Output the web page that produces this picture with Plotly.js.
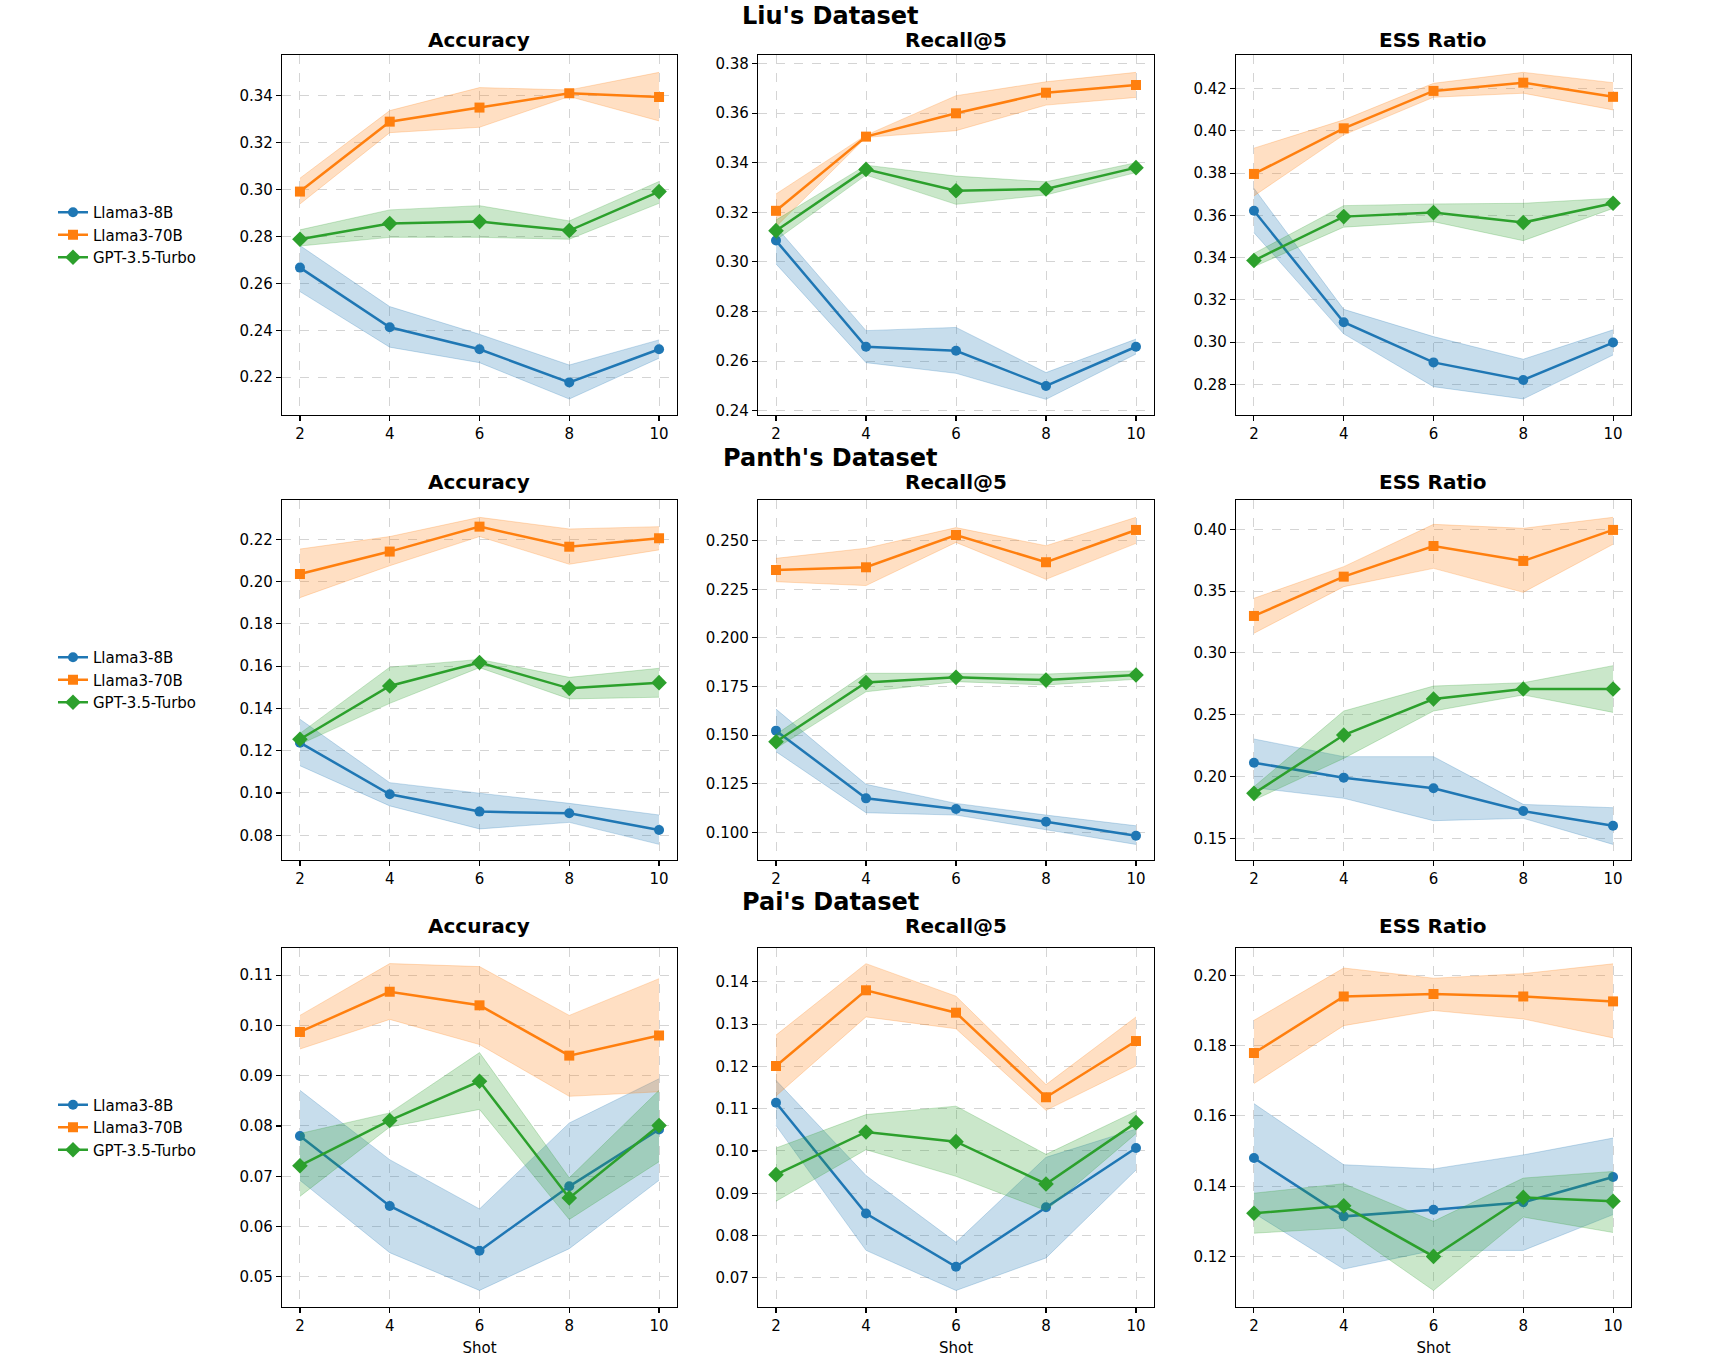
<!DOCTYPE html>
<html>
<head>
<meta charset="utf-8">
<script src="https://cdn.plot.ly/plotly-3.0.1.min.js"></script>
<style>
  html, body { margin: 0; padding: 0; background: #ffffff; }
  #chart { width: 1721px; height: 1359px; }
</style>
</head>
<body>
<div id="chart"></div>
<script>
// ---------------- DATA ----------------
const shots = [2, 4, 6, 8, 10];
const models = ['Llama3-8B', 'Llama3-70B', 'GPT-3.5-Turbo'];
const datasets = ["Liu's Dataset", "Panth's Dataset", "Pai's Dataset"];
const metrics = ['Accuracy', 'Recall@5', 'ESS Ratio'];

// Liu's Dataset - Accuracy
const liuAcc_8B     = [0.2667, 0.2413, 0.2319, 0.2178, 0.2319];
const liuAcc_8B_lo  = [0.2565, 0.2328, 0.2262, 0.2107, 0.2281];
const liuAcc_8B_hi  = [0.2761, 0.2501, 0.2383, 0.2252, 0.2359];
const liuAcc_70B    = [0.2991, 0.3289, 0.3349, 0.3410, 0.3394];
const liuAcc_70B_lo = [0.2938, 0.3242, 0.3265, 0.3396, 0.3292];
const liuAcc_70B_hi = [0.3048, 0.3336, 0.3434, 0.3424, 0.3499];
const liuAcc_GPT    = [0.2788, 0.2855, 0.2863, 0.2825, 0.2991];
const liuAcc_GPT_lo = [0.2759, 0.2796, 0.2796, 0.2788, 0.2941];
const liuAcc_GPT_hi = [0.2828, 0.2913, 0.2931, 0.2866, 0.3034];

// Liu's Dataset - Recall@5
const liuRec_8B     = [0.3086, 0.2658, 0.2642, 0.2500, 0.2658];
const liuRec_8B_lo  = [0.2992, 0.2594, 0.2551, 0.2446, 0.2629];
const liuRec_8B_hi  = [0.3142, 0.2723, 0.2736, 0.2554, 0.2689];
const liuRec_70B    = [0.3206, 0.3505, 0.3599, 0.3682, 0.3713];
const liuRec_70B_lo = [0.3142, 0.3502, 0.3529, 0.3632, 0.3663];
const liuRec_70B_hi = [0.3274, 0.3511, 0.3670, 0.3726, 0.3764];
const liuRec_GPT    = [0.3126, 0.3373, 0.3287, 0.3294, 0.3380];
const liuRec_GPT_lo = [0.3088, 0.3350, 0.3232, 0.3270, 0.3360];
const liuRec_GPT_hi = [0.3169, 0.3390, 0.3346, 0.3323, 0.3400];

// Liu's Dataset - ESS Ratio
const liuEss_8B     = [0.3622, 0.3094, 0.2904, 0.2821, 0.2998];
const liuEss_8B_lo  = [0.3518, 0.3039, 0.2789, 0.2731, 0.2939];
const liuEss_8B_hi  = [0.3728, 0.3155, 0.3026, 0.2919, 0.3058];
const liuEss_70B    = [0.3796, 0.4012, 0.4189, 0.4228, 0.4161];
const liuEss_70B_lo = [0.3692, 0.3981, 0.4159, 0.4178, 0.4099];
const liuEss_70B_hi = [0.3918, 0.4052, 0.4225, 0.4277, 0.4228];
const liuEss_GPT    = [0.3386, 0.3594, 0.3613, 0.3566, 0.3657];
const liuEss_GPT_lo = [0.3357, 0.3544, 0.3570, 0.3480, 0.3633];
const liuEss_GPT_hi = [0.3420, 0.3646, 0.3654, 0.3657, 0.3681];

// Panth's Dataset - Accuracy
const panAcc_8B     = [0.1238, 0.0994, 0.0912, 0.0904, 0.0825];
const panAcc_8B_lo  = [0.1129, 0.0939, 0.0830, 0.0861, 0.0757];
const panAcc_8B_hi  = [0.1349, 0.1049, 0.0999, 0.0951, 0.0896];
const panAcc_70B    = [0.2036, 0.2142, 0.2260, 0.2165, 0.2205];
const panAcc_70B_lo = [0.1924, 0.2075, 0.2213, 0.2082, 0.2150];
const panAcc_70B_hi = [0.2154, 0.2213, 0.2304, 0.2249, 0.2260];
const panAcc_GPT    = [0.1254, 0.1506, 0.1617, 0.1495, 0.1522];
const panAcc_GPT_lo = [0.1230, 0.1424, 0.1593, 0.1445, 0.1453];
const panAcc_GPT_hi = [0.1282, 0.1595, 0.1632, 0.1547, 0.1590];

// Panth's Dataset - Recall@5
const panRec_8B     = [0.1523, 0.1175, 0.1120, 0.1055, 0.0983];
const panRec_8B_lo  = [0.1415, 0.1101, 0.1089, 0.1015, 0.0938];
const panRec_8B_hi  = [0.1634, 0.1247, 0.1149, 0.1089, 0.1034];
const panRec_70B    = [0.2349, 0.2363, 0.2529, 0.2389, 0.2555];
const panRec_70B_lo = [0.2289, 0.2269, 0.2491, 0.2301, 0.2486];
const panRec_70B_hi = [0.2409, 0.2461, 0.2567, 0.2474, 0.2620];
const panRec_GPT    = [0.1466, 0.1771, 0.1797, 0.1783, 0.1809];
const panRec_GPT_lo = [0.1432, 0.1723, 0.1775, 0.1758, 0.1787];
const panRec_GPT_hi = [0.1504, 0.1818, 0.1818, 0.1814, 0.1831];

// Panth's Dataset - ESS Ratio
const panEss_8B     = [0.2112, 0.1991, 0.1905, 0.1721, 0.1602];
const panEss_8B_lo  = [0.1910, 0.1824, 0.1643, 0.1662, 0.1451];
const panEss_8B_hi  = [0.2304, 0.2161, 0.2161, 0.1775, 0.1748];
const panEss_70B    = [0.3299, 0.3617, 0.3865, 0.3744, 0.3995];
const panEss_70B_lo = [0.3159, 0.3536, 0.3684, 0.3490, 0.3879];
const panEss_70B_hi = [0.3442, 0.3698, 0.4040, 0.4008, 0.4097];
const panEss_GPT    = [0.1864, 0.2336, 0.2627, 0.2708, 0.2708];
const panEss_GPT_lo = [0.1810, 0.2147, 0.2530, 0.2660, 0.2519];
const panEss_GPT_hi = [0.1918, 0.2530, 0.2732, 0.2759, 0.2897];

// Pai's Dataset - Accuracy
const paiAcc_8B     = [0.0780, 0.0641, 0.0552, 0.0680, 0.0793];
const paiAcc_8B_lo  = [0.0692, 0.0548, 0.0473, 0.0556, 0.0692];
const paiAcc_8B_hi  = [0.0871, 0.0733, 0.0635, 0.0806, 0.0894];
const paiAcc_70B    = [0.0987, 0.1067, 0.1040, 0.0940, 0.0980];
const paiAcc_70B_lo = [0.0953, 0.1012, 0.0962, 0.0859, 0.0868];
const paiAcc_70B_hi = [0.1020, 0.1123, 0.1117, 0.1020, 0.1093];
const paiAcc_GPT    = [0.0721, 0.0811, 0.0889, 0.0657, 0.0801];
const paiAcc_GPT_lo = [0.0660, 0.0798, 0.0833, 0.0614, 0.0729];
const paiAcc_GPT_hi = [0.0785, 0.0826, 0.0946, 0.0697, 0.0871];

// Pai's Dataset - Recall@5
const paiRec_8B     = [0.1114, 0.0852, 0.0726, 0.0867, 0.1007];
const paiRec_8B_lo  = [0.1060, 0.0765, 0.0670, 0.0747, 0.0955];
const paiRec_8B_hi  = [0.1167, 0.0942, 0.0784, 0.0985, 0.1052];
const paiRec_70B    = [0.1201, 0.1380, 0.1327, 0.1127, 0.1260];
const paiRec_70B_lo = [0.1130, 0.1317, 0.1289, 0.1096, 0.1201];
const paiRec_70B_hi = [0.1274, 0.1443, 0.1366, 0.1157, 0.1317];
const paiRec_GPT    = [0.0944, 0.1045, 0.1022, 0.0922, 0.1067];
const paiRec_GPT_lo = [0.0881, 0.1003, 0.0940, 0.0859, 0.1041];
const paiRec_GPT_hi = [0.1007, 0.1086, 0.1106, 0.0992, 0.1094];

// Pai's Dataset - ESS Ratio
const paiEss_8B     = [0.1480, 0.1314, 0.1333, 0.1354, 0.1426];
const paiEss_8B_lo  = [0.1323, 0.1164, 0.1217, 0.1217, 0.1319];
const paiEss_8B_hi  = [0.1635, 0.1461, 0.1449, 0.1489, 0.1537];
const paiEss_70B    = [0.1779, 0.1940, 0.1947, 0.1940, 0.1926];
const paiEss_70B_lo = [0.1692, 0.1857, 0.1900, 0.1876, 0.1822];
const paiEss_70B_hi = [0.1872, 0.2021, 0.1992, 0.2005, 0.2033];
const paiEss_GPT    = [0.1323, 0.1344, 0.1200, 0.1368, 0.1357];
const paiEss_GPT_lo = [0.1266, 0.1281, 0.1103, 0.1312, 0.1268];
const paiEss_GPT_hi = [0.1380, 0.1407, 0.1300, 0.1423, 0.1442];

// ---------------- ASSEMBLY ----------------
const panels = [
  [ // Liu
    [[liuAcc_8B, liuAcc_8B_lo, liuAcc_8B_hi], [liuAcc_70B, liuAcc_70B_lo, liuAcc_70B_hi], [liuAcc_GPT, liuAcc_GPT_lo, liuAcc_GPT_hi]],
    [[liuRec_8B, liuRec_8B_lo, liuRec_8B_hi], [liuRec_70B, liuRec_70B_lo, liuRec_70B_hi], [liuRec_GPT, liuRec_GPT_lo, liuRec_GPT_hi]],
    [[liuEss_8B, liuEss_8B_lo, liuEss_8B_hi], [liuEss_70B, liuEss_70B_lo, liuEss_70B_hi], [liuEss_GPT, liuEss_GPT_lo, liuEss_GPT_hi]]
  ],
  [ // Panth
    [[panAcc_8B, panAcc_8B_lo, panAcc_8B_hi], [panAcc_70B, panAcc_70B_lo, panAcc_70B_hi], [panAcc_GPT, panAcc_GPT_lo, panAcc_GPT_hi]],
    [[panRec_8B, panRec_8B_lo, panRec_8B_hi], [panRec_70B, panRec_70B_lo, panRec_70B_hi], [panRec_GPT, panRec_GPT_lo, panRec_GPT_hi]],
    [[panEss_8B, panEss_8B_lo, panEss_8B_hi], [panEss_70B, panEss_70B_lo, panEss_70B_hi], [panEss_GPT, panEss_GPT_lo, panEss_GPT_hi]]
  ],
  [ // Pai
    [[paiAcc_8B, paiAcc_8B_lo, paiAcc_8B_hi], [paiAcc_70B, paiAcc_70B_lo, paiAcc_70B_hi], [paiAcc_GPT, paiAcc_GPT_lo, paiAcc_GPT_hi]],
    [[paiRec_8B, paiRec_8B_lo, paiRec_8B_hi], [paiRec_70B, paiRec_70B_lo, paiRec_70B_hi], [paiRec_GPT, paiRec_GPT_lo, paiRec_GPT_hi]],
    [[paiEss_8B, paiEss_8B_lo, paiEss_8B_hi], [paiEss_70B, paiEss_70B_lo, paiEss_70B_hi], [paiEss_GPT, paiEss_GPT_lo, paiEss_GPT_hi]]
  ]
];

// ---------------- STYLE / LAYOUT ----------------
const W = 1721, H = 1359;
const colors = ['#1f77b4', '#ff7f0e', '#2ca02c'];
const fills = ['rgba(31,119,180,0.25)', 'rgba(255,127,14,0.25)', 'rgba(44,160,44,0.25)'];
const edges = ['rgba(31,119,180,0.3)', 'rgba(255,127,14,0.3)', 'rgba(44,160,44,0.3)'];
const symbols = ['circle', 'square', 'diamond'];
const msizes = [10, 10, 12];

const colPx = [[282, 677], [758, 1154], [1236, 1631]];
const rowPx = [[55, 415], [500, 860], [948, 1307]];

const yRanges = [
  [[0.2039, 0.3573], [0.2383, 0.3834], [0.2655, 0.4359]],
  [[0.0683, 0.2386], [0.0858, 0.2709], [0.1325, 0.4237]],
  [[0.0440, 0.1154], [0.0631, 0.1480], [0.1056, 0.2078]]
];
const yTicks = [
  [[0.02, '.2f'], [0.02, '.2f'], [0.02, '.2f']],
  [[0.02, '.2f'], [0.025, '.3f'], [0.05, '.2f']],
  [[0.01, '.2f'], [0.01, '.2f'], [0.02, '.2f']]
];

const FONT = 'DejaVu Sans, Arial, sans-serif';
const traces = [];
const layout = {
  width: W, height: H,
  margin: {l: 0, r: 0, t: 0, b: 0},
  paper_bgcolor: '#ffffff',
  plot_bgcolor: '#ffffff',
  font: {family: FONT, size: 15, color: '#000000'},
  annotations: [],
  showlegend: true
};

const legendNames = ['legend', 'legend2', 'legend3'];
const rowTitleY = [16, 458, 902];
const subTitleY = [40, 482, 926];

for (let r = 0; r < 3; r++) {
  const yDom = [1 - rowPx[r][1] / H, 1 - rowPx[r][0] / H];
  layout[legendNames[r]] = {
    x: 53 / W, xanchor: 'left',
    y: (yDom[0] + yDom[1]) / 2, yanchor: 'middle',
    traceorder: 'normal',
    font: {family: FONT, size: 15, color: '#000'},
    bgcolor: 'rgba(0,0,0,0)', borderwidth: 0,
    tracegroupgap: 0
  };
  layout.annotations.push({
    text: '<b>' + datasets[r] + '</b>', xref: 'paper', yref: 'paper',
    x: 830 / W, y: 1 - rowTitleY[r] / H, xanchor: 'center', yanchor: 'middle',
    showarrow: false, font: {family: FONT, size: 24, color: '#000'}
  });
  for (let c = 0; c < 3; c++) {
    const k = r * 3 + c + 1;
    const xa = 'xaxis' + (k === 1 ? '' : k);
    const ya = 'yaxis' + (k === 1 ? '' : k);
    const xr = 'x' + (k === 1 ? '' : k);
    const yr = 'y' + (k === 1 ? '' : k);
    const xDom = [colPx[c][0] / W, colPx[c][1] / W];
    const common = {
      showline: true, mirror: true, linecolor: '#000', linewidth: 1.2,
      ticks: 'outside', ticklen: 5, tickwidth: 1.1, tickcolor: '#000',
      showgrid: true, gridcolor: '#d4d4d4', griddash: 'dash', gridwidth: 1,
      zeroline: false, fixedrange: true,
      tickfont: {family: FONT, size: 15, color: '#000'}
    };
    layout[xa] = Object.assign({}, common, {
      domain: xDom, anchor: yr, range: [1.6, 10.4],
      tickmode: 'array', tickvals: shots, ticktext: shots.map(String)
    });
    layout[ya] = Object.assign({}, common, {
      domain: yDom, anchor: xr, range: yRanges[r][c],
      tickmode: 'linear', tick0: 0, dtick: yTicks[r][c][0], tickformat: yTicks[r][c][1]
    });
    if (r === 2) {
      layout[xa].title = {text: 'Shot', font: {family: FONT, size: 15, color: '#000'}, standoff: 8};
    }
    layout.annotations.push({
      text: '<b>' + metrics[c] + '</b>', xref: 'paper', yref: 'paper',
      x: (xDom[0] + xDom[1]) / 2, y: 1 - subTitleY[r] / H, xanchor: 'center', yanchor: 'middle',
      showarrow: false, font: {family: FONT, size: 20, color: '#000'}
    });

    for (let m = 0; m < 3; m++) {
      const [mean, lo, hi] = panels[r][c][m];
      traces.push({
        x: shots, y: lo, xaxis: xr, yaxis: yr, type: 'scatter', mode: 'lines',
        line: {color: edges[m], width: 0.8}, showlegend: false, hoverinfo: 'skip'
      });
      traces.push({
        x: shots, y: hi, xaxis: xr, yaxis: yr, type: 'scatter', mode: 'lines',
        line: {color: edges[m], width: 0.8}, fill: 'tonexty', fillcolor: fills[m],
        showlegend: false, hoverinfo: 'skip'
      });
      traces.push({
        x: shots, y: mean, xaxis: xr, yaxis: yr, type: 'scatter', mode: 'lines+markers',
        name: models[m], legend: legendNames[r],
        showlegend: c === 0,
        line: {color: colors[m], width: 2.5},
        marker: {symbol: symbols[m], size: msizes[m], color: colors[m], line: {width: 0}}
      });
    }
  }
}

Plotly.newPlot('chart', traces, layout, {displayModeBar: false, staticPlot: true});
</script>
</body>
</html>
